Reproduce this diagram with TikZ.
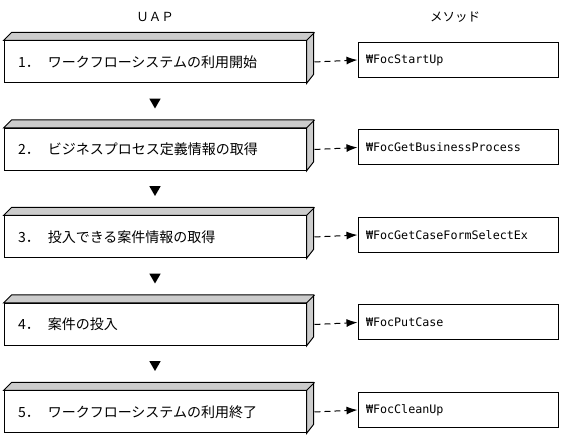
\documentclass[tikz,border=0pt]{standalone}
\usepackage{fontspec}
\usepackage{xcolor}
\usepackage{tikz}
\usetikzlibrary{arrows.meta,shapes.geometric}
\newfontfamily\jpfont{Noto Sans CJK JP}
\newfontfamily\apifont{DejaVu Sans Mono}
\definecolor{slabgray}{RGB}{204,204,204}

\begin{document}
\begin{tikzpicture}[x=1pt, y=1pt, line width=1pt,
  uap/.style={draw, fill=white, minimum width=302pt, minimum height=42pt, inner ysep=0pt, inner xsep=14pt, text width=274pt, align=left, font=\jpfont\fontsize{14}{16}\selectfont},
  api/.style={draw, minimum width=200pt, minimum height=35pt, inner ysep=0pt, inner xsep=8pt, text width=184pt, align=left, font=\apifont\fontsize{11.7}{13}\selectfont},
  head/.style={font=\jpfont\fontsize{12.5}{14}\selectfont},
  down/.style={regular polygon, regular polygon sides=3, shape border rotate=180, fill=black, draw=none, inner sep=0pt, minimum size=13pt},
  call/.style={dash pattern=on 6pt off 4pt, -{Latex[length=11pt,width=8pt]}}]
\useasboundingbox (0,0) rectangle (562,443);

\node[head] (huap) at (155,426) {ＵＡＰ};
\node[head] (hapi) at (455,426) {メソッド};

\node[uap] (s1) at (155,381) {1．\hspace{8pt}ワークフローシステムの利用開始};
\node[uap] (s2) at (155,293.5) {2．\hspace{8pt}ビジネスプロセス定義情報の取得};
\node[uap] (s3) at (155,206) {3．\hspace{8pt}投入できる案件情報の取得};
\node[uap] (s4) at (155,118.5) {4．\hspace{8pt}案件の投入};
\node[uap] (s5) at (155,31) {5．\hspace{8pt}ワークフローシステムの利用終了};

\node[api] (m1) at (458,383) {₩FocStartUp};
\node[api] (m2) at (458,295.5) {₩FocGetBusinessProcess};
\node[api] (m3) at (458,208) {₩FocGetCaseFormSelectEx};
\node[api] (m4) at (458,120.5) {₩FocPutCase};
\node[api] (m5) at (458,33) {₩FocCleanUp};

\node[down] (d1) at (155,341) {};
\node[down] (d2) at (155,253.5) {};
\node[down] (d3) at (155,166) {};
\node[down] (d4) at (155,78.5) {};

% top and side faces of the slabs
\foreach \i in {1,...,5} {
  \filldraw[fill=slabgray] (s\i.north west) -- ++(8,8) -- ++(302,0) -- ++(0,-42) -- (s\i.south east) -- (s\i.north east) -- cycle;
  \draw (s\i.north east) -- ++(8,8);
  \draw[call] ([xshift=8pt]s\i.east) -- (m\i.west);
}
\end{tikzpicture}
\end{document}
